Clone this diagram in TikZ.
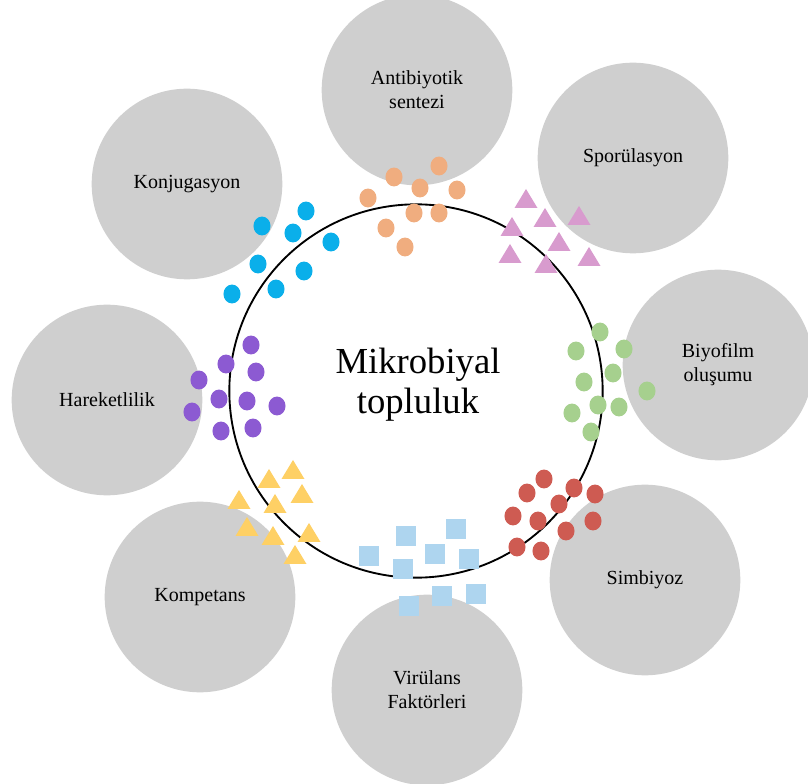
\documentclass[tikz,border=0pt]{standalone}
\usepackage{fontspec}
\setmainfont{Liberation Serif}
\usetikzlibrary{positioning}
\definecolor{Bubble}{HTML}{CFCFCF}
\definecolor{Cyan}{HTML}{0AAFEA}
\definecolor{Peach}{HTML}{F0AD7F}
\definecolor{Orchid}{HTML}{D89BCE}
\definecolor{Leaf}{HTML}{A6D08E}
\definecolor{Violet}{HTML}{8C5AD2}
\definecolor{Sun}{HTML}{FED065}
\definecolor{Sky}{HTML}{AED5EF}
\definecolor{Brick}{HTML}{CE5B52}

\begin{document}
\begin{tikzpicture}[x=.75pt,y=-.75pt,
    bubble/.style={circle,fill=Bubble,minimum size=143pt,inner sep=0pt,
      align=center,font=\fontsize{15}{18}\selectfont},
    core/.style={circle,draw=black,line width=1.4pt,minimum size=280pt},
    title/.style={align=center,font=\fontsize{27.5}{30}\selectfont}]
  \useasboundingbox (0,0) rectangle (808,784);
  % outer processes
  \node[bubble] (anti) at (417,90) {Antibiyotik\\sentezi};
  \node[bubble] (spor) at (633,158) {Sporülasyon};
  \node[bubble] (konj) at (187,184) {Konjugasyon};
  \node[bubble] (hare) at (107,400) {Hareketlilik};
  \node[bubble] (biyo) at (718,365) {Biyofilm\\oluşumu};
  \node[bubble] (simb) at (645,580) {Simbiyoz};
  \node[bubble] (komp) at (200,597) {Kompetans};
  \node[bubble] (viru) at (427,690) {Virülans\\Faktörleri};
  % community ring
  \node[core] (core) at (416,391) {};
  \node[title] (title) at (418,385) {Mikrobiyal\\topluluk};
  % round cells
  \foreach \p/\c in {
      {(306,211)}/Cyan,{(262,226)}/Cyan,{(293,233)}/Cyan,{(331,242)}/Cyan,
      {(258,264)}/Cyan,{(304,271)}/Cyan,{(276,289)}/Cyan,{(232,294)}/Cyan,
      {(368,198)}/Peach,{(394,177)}/Peach,{(439,166)}/Peach,{(420,188)}/Peach,
      {(457,190)}/Peach,{(414,213)}/Peach,{(439,213)}/Peach,{(386,228)}/Peach,
      {(405,247)}/Peach,
      {(600,332)}/Leaf,{(576,351)}/Leaf,{(624,349)}/Leaf,{(613,373)}/Leaf,
      {(584,382)}/Leaf,{(647,391)}/Leaf,{(598,405)}/Leaf,{(619,407)}/Leaf,
      {(572,413)}/Leaf,{(591,432)}/Leaf,
      {(251,345)}/Violet,{(226,364)}/Violet,{(256,372)}/Violet,{(199,380)}/Violet,
      {(219,399)}/Violet,{(247,401)}/Violet,{(277,406)}/Violet,{(192,412)}/Violet,
      {(221,431)}/Violet,{(253,428)}/Violet,
      {(544,479)}/Brick,{(527,493)}/Brick,{(574,488)}/Brick,{(595,494)}/Brick,
      {(559,504)}/Brick,{(513,516)}/Brick,{(538,521)}/Brick,{(593,521)}/Brick,
      {(566,531)}/Brick,{(517,547)}/Brick,{(541,551)}/Brick}
    \fill[\c] \p ellipse[x radius=6.4pt,y radius=7.1pt];
  % triangles
  \foreach \p/\c in {
      {(526,200)}/Orchid,{(545,219)}/Orchid,{(579,217)}/Orchid,{(512,228)}/Orchid,
      {(559,243)}/Orchid,{(510,255)}/Orchid,{(546,265)}/Orchid,{(589,258)}/Orchid,
      {(293,471)}/Sun,{(269,480)}/Sun,{(239,501)}/Sun,{(302,495)}/Sun,
      {(275,505)}/Sun,{(247,528)}/Sun,{(273,537)}/Sun,{(309,534)}/Sun,
      {(295,556)}/Sun}
    \fill[\c] \p +(0,-11) -- +(11.5,8) -- +(-11.5,8) -- cycle;
  % squares
  \foreach \p in {(406,536),(456,529),(369,556),(435,554),(469,559),
      (403,569),(409,606),(442,596),(476,594)}
    \fill[Sky] \p +(-10,-10) rectangle +(10,10);
\end{tikzpicture}
\end{document}
